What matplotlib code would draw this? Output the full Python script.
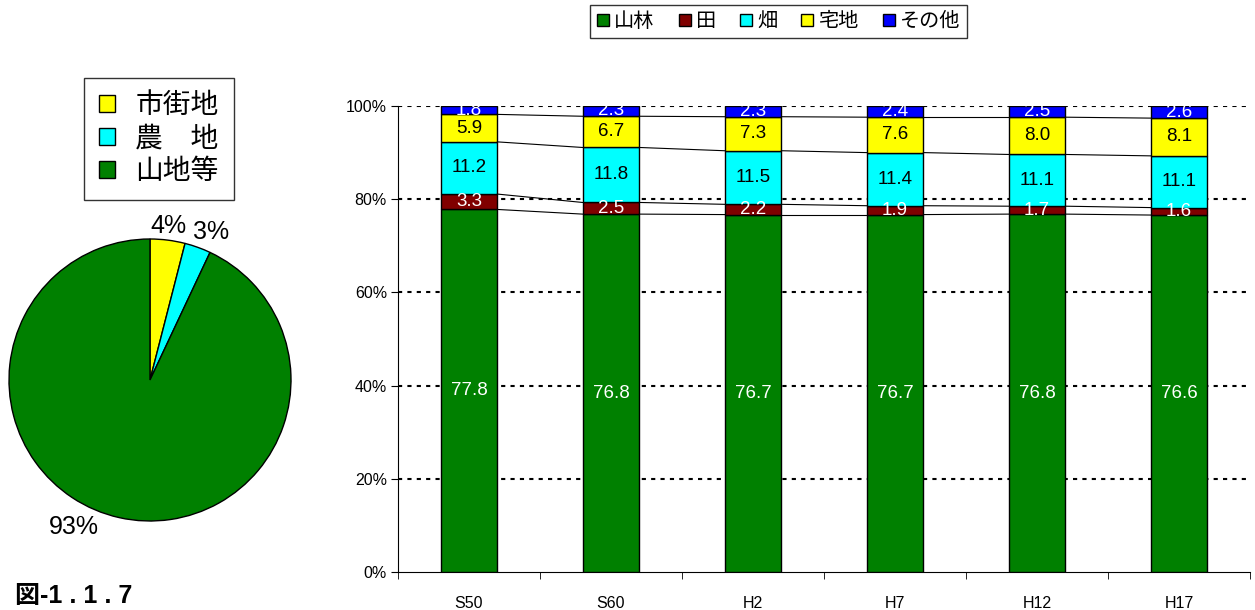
import matplotlib
matplotlib.use("AGG")
import matplotlib.pyplot as plt
from matplotlib.patches import Patch
import numpy as np

plt.rcParams["font.family"] = ["Liberation Sans", "Noto Sans CJK JP"]

# bar chart data (land use share, %)
years = ["S50", "S60", "H2", "H7", "H12", "H17"]
sanrin = [77.8, 76.8, 76.7, 76.7, 76.8, 76.6]
ta = [3.3, 2.5, 2.2, 1.9, 1.7, 1.6]
hata = [11.2, 11.8, 11.5, 11.4, 11.1, 11.1]
takuchi = [5.9, 6.7, 7.3, 7.6, 8.0, 8.1]
sonota = [1.8, 2.3, 2.3, 2.4, 2.5, 2.6]
series_names = ["山林", "田", "畑", "宅地", "その他"]
series_colors = ["#008000", "#800000", "#00FFFF", "#FFFF00", "#0000FF"]
label_colors = ["white", "white", "black", "black", "white"]

# pie data
pie_names = ["市街地", "農　地", "山地等"]
pie_vals = [4, 3, 93]
pie_colors = ["#FFFF00", "#00FFFF", "#008000"]

W, H = 1255, 610
fig = plt.figure(figsize=(W / 100, H / 100), dpi=100)

# ---- stacked bars
ax = fig.add_axes([398 / W, (H - 572) / H, (1250 - 398) / W, (572 - 106) / H])
x = np.arange(len(years)) + 0.5
bw = 0.4
series = [sanrin, ta, hata, takuchi, sonota]
bottom = np.zeros(len(years))
tops = []
for vals, name, col, lc in zip(series, series_names, series_colors, label_colors):
    vals = np.array(vals)
    ax.bar(x, vals, bw, bottom=bottom, color=col, edgecolor="black",
           linewidth=1, label=name, zorder=3)
    for xi, b, v in zip(x, bottom, vals):
        ax.text(xi, b + v / 2, f"{v:.1f}", ha="center", va="center",
                color=lc, fontsize=13.5, zorder=5)
    bottom = bottom + vals
    tops.append(bottom.copy())

# series lines between bars
for t in tops[:-1]:
    for i in range(len(years) - 1):
        ax.plot([x[i] + bw / 2, x[i + 1] - bw / 2], [t[i], t[i + 1]],
                color="black", linewidth=0.8, zorder=4)

ax.set_xlim(0, len(years))
ax.set_ylim(0, 100)
ax.set_yticks([0, 20, 40, 60, 80, 100])
ax.set_yticklabels([f"{v}%" for v in [0, 20, 40, 60, 80, 100]], fontsize=11.5)
ax.set_xticks(x)
ax.set_xticklabels(years, fontsize=11.5)
ax.set_xticks(np.arange(len(years) + 1), minor=True)
ax.tick_params(axis="x", which="major", length=0, pad=17)
ax.tick_params(axis="x", which="minor", length=5, direction="out")
ax.tick_params(axis="y", length=5, direction="out", pad=3)
for yv in [20, 40, 60, 80, 100]:
    ax.axhline(yv, color="black", linewidth=1.5, linestyle=(0, (2, 2.5)), zorder=1)
ax.spines["top"].set_visible(False)
ax.spines["right"].set_visible(False)

handles = [Patch(facecolor=c, edgecolor="black", linewidth=1) for c in series_colors]
leg = fig.legend(handles, series_names, loc="upper left", ncol=5,
                 bbox_to_anchor=(590 / W, 1 - 5 / H), fontsize=14.5,
                 frameon=True, fancybox=False, edgecolor="black",
                 handlelength=0.6, handleheight=0.6, handletextpad=0.25,
                 columnspacing=1.2, borderpad=0.35, borderaxespad=0)
leg.get_frame().set_linewidth(1)

# ---- pie
pax = fig.add_axes([9 / W, (H - 521) / H, 282 / W, 282 / H])
wedges, texts = pax.pie(pie_vals, colors=pie_colors, startangle=90,
                        counterclock=False, labels=[f"{v}%" for v in pie_vals],
                        labeldistance=1.12,
                        wedgeprops=dict(edgecolor="black", linewidth=1),
                        textprops=dict(fontsize=18))
texts[0].set_ha("center")
texts[0].set_position((0.13, 1.09))
texts[1].set_ha("center")
texts[1].set_position((0.43, 1.05))
texts[2].set_position((-0.54, -1.04))
texts[2].set_ha("center")
pax.set_xlim(-1, 1)
pax.set_ylim(-1, 1)

pleg = fig.legend(wedges, pie_names, loc="upper left",
                  bbox_to_anchor=(84 / W, 1 - 78 / H), fontsize=20,
                  frameon=True, fancybox=False, edgecolor="black",
                  handlelength=0.55, handleheight=0.55, handletextpad=0.75,
                  labelspacing=0.25, borderpad=0.55, borderaxespad=0)
pleg.get_frame().set_linewidth(1)

fig.text(15 / W, 1 - 596 / H, "図-1 . 1 . 7", fontsize=18, fontweight="bold",
         va="center", ha="left")

fig.savefig("out.png", dpi=100)
